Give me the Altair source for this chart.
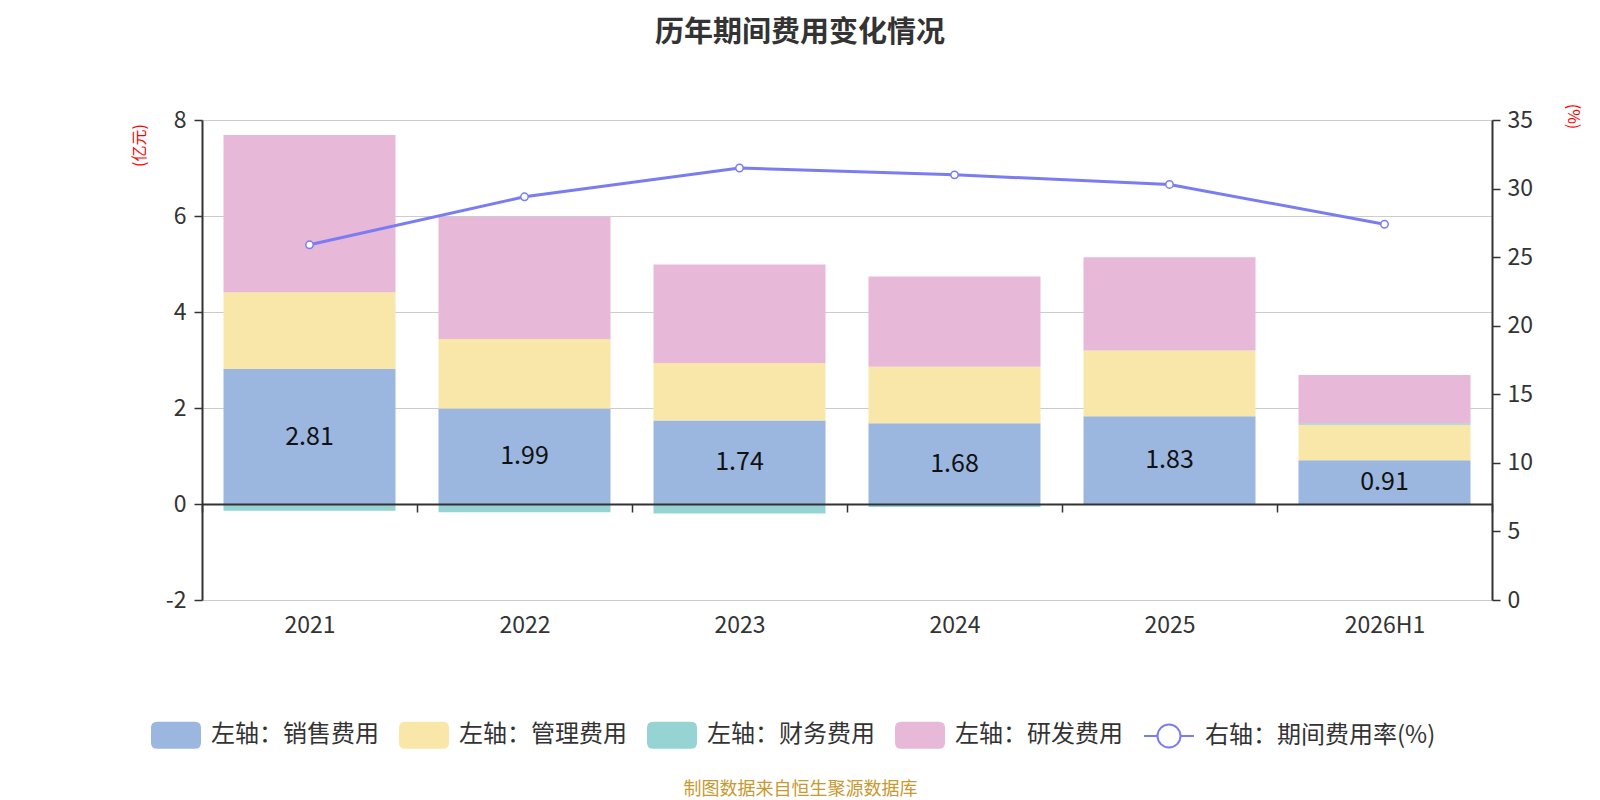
import altair as alt
import pandas as pd

years = ["2021", "2022", "2023", "2024", "2025", "2026H1"]
sales = [2.81, 1.99, 1.74, 1.68, 1.83, 0.91]
admin = [1.60, 1.45, 1.20, 1.18, 1.37, 0.74]
finance = [-0.14, -0.17, -0.20, -0.06, 0.00, 0.03]
rnd = [3.28, 2.54, 2.05, 1.88, 1.94, 1.01]
rate = [25.9, 29.4, 31.5, 31.0, 30.3, 27.4]

series_names = ["左轴：销售费用", "左轴：管理费用", "左轴：财务费用", "左轴：研发费用"]
series_colors = ["#9BB7E0", "#F8E7A9", "#96D3D3", "#E7B8D8"]
line_name = "右轴：期间费用率(%)"
line_color = "#7A7CF2"

FONT = "Noto Sans CJK SC"
W, H = 1290, 480

rows = []
for i, y in enumerate(years):
    for k, (name, vals) in enumerate(zip(series_names, [sales, admin, finance, rnd])):
        rows.append({"year": y, "series": name, "value": vals[i], "idx": k})
bars_df = pd.DataFrame(rows)
text_df = pd.DataFrame({"year": years, "sales": sales})
line_df = pd.DataFrame({"year": years, "rate": rate, "name": [line_name] * len(years)})

x_axis = alt.Axis(
    title="制图数据来自恒生聚源数据库", titleColor="#C9982F", titleFontSize=18,
    titleFontWeight="normal", titleX=598, titleY=285, titleAlign="center",
    titleBaseline="middle", titleLimit=1000,
    offset=-96, domainColor="#333333", domainWidth=2, tickColor="#333333",
    tickSize=8, tickWidth=1.5, tickBand="extent", labelPadding=102,
    labelFontSize=23, labelColor="#333333", labelAngle=0, grid=False, zindex=1,
)
xenc = alt.X("year:N", sort=years,
             scale=alt.Scale(paddingInner=0, paddingOuter=0), axis=x_axis)

left_axis = alt.Axis(
    title="(亿元)", titleColor="red", titleFontSize=16, titleFontWeight="normal",
    titleX=-63, titleY=25, titleAngle=270, titleAlign="center", titleBaseline="middle",
    values=[-2, 0, 2, 4, 6, 8], labelExpr="toString(datum.value)",
    labelFontSize=23, labelColor="#333333", labelPadding=8,
    tickSize=8, tickColor="#333333", tickWidth=1.5, domainColor="#333333", domainWidth=2,
    grid=True, gridColor="#CCCCCC", gridWidth=1.2,
)
right_axis = alt.Axis(
    orient="right", title="(%)", titleColor="red", titleFontSize=16,
    titleFontWeight="normal", titleX=80, titleY=-4, titleAngle=90, titleAlign="center",
    titleBaseline="middle", values=[0, 5, 10, 15, 20, 25, 30, 35], labelFontSize=23,
    labelColor="#333333", labelPadding=7, tickSize=8, tickColor="#333333", tickWidth=1.5,
    domainColor="#333333", domainWidth=2, grid=False,
)
left_scale = alt.Scale(domain=[-2, 8], nice=False)
right_scale = alt.Scale(domain=[0, 35], nice=False)

RECT_PATH = ("M-0.76,-0.54 L0.76,-0.54 Q1,-0.54 1,-0.3 L1,0.3 Q1,0.54 0.76,0.54 "
             "L-0.76,0.54 Q-1,0.54 -1,0.3 L-1,-0.3 Q-1,-0.54 -0.76,-0.54 Z")
LINE_PATH = ("M-1,0 L-0.46,0 M0.46,0 L1,0 M0.46,0 A0.46,0.46 0 1 1 -0.46,0 "
             "A0.46,0.46 0 1 1 0.46,0")

bar_legend = alt.Legend(
    orient="none", legendX=-51, legendY=590, direction="horizontal", title=None,
    symbolType=RECT_PATH, symbolSize=2500, symbolStrokeWidth=0, symbolOpacity=1,
    labelFontSize=24, labelColor="#333333", labelOffset=10, columnPadding=20,
    labelLimit=400, padding=0,
)
line_legend = alt.Legend(
    orient="none", legendX=941, legendY=590, direction="horizontal", title=None,
    symbolType=LINE_PATH, symbolSize=2500, symbolStrokeWidth=2, symbolFillColor="white",
    symbolOpacity=1, labelFontSize=24, labelColor="#333333", labelOffset=10,
    labelLimit=400, padding=0,
)

bars = alt.Chart(bars_df).mark_bar(width=alt.RelativeBandSize(0.8)).encode(
    x=xenc,
    y=alt.Y("value:Q", stack="zero", scale=left_scale, axis=left_axis),
    color=alt.Color("series:N", scale=alt.Scale(domain=series_names, range=series_colors),
                    legend=bar_legend),
    order=alt.Order("idx:Q"),
)
labels = alt.Chart(text_df).transform_calculate(mid="datum.sales / 2").mark_text(
    fontSize=25, color="#111111", font=FONT
).encode(
    x=xenc,
    y=alt.Y("mid:Q", scale=left_scale, axis=left_axis),
    text=alt.Text("sales:Q", format=".2f"),
)
line = alt.Chart(line_df).mark_line(strokeWidth=3).encode(
    x=xenc,
    y=alt.Y("rate:Q", scale=right_scale, axis=right_axis),
    color=alt.Color("name:N", scale=alt.Scale(domain=[line_name], range=[line_color]),
                    legend=line_legend),
)
points = alt.Chart(line_df).mark_point(
    filled=True, fill="white", stroke=line_color, strokeWidth=1.5, size=55, opacity=1
).encode(
    x=xenc,
    y=alt.Y("rate:Q", scale=right_scale, axis=right_axis),
)

left_layer = alt.layer(bars, labels)
right_layer = alt.layer(line, points)

chart = alt.layer(left_layer, right_layer).resolve_scale(
    y="independent", color="independent"
).properties(
    width=W, height=H,
    autosize=alt.AutoSizeParams(type="none"),
    padding={"left": 194, "top": 112, "right": 100, "bottom": 198},
    title=alt.TitleParams("历年期间费用变化情况", fontSize=29, fontWeight="bold",
                          color="#333333", anchor="middle", dx=-47, offset=55, font=FONT),
).configure(font=FONT).configure_view(stroke=None)

chart.save("out.html", embed_options={"renderer": "svg", "actions": False})
